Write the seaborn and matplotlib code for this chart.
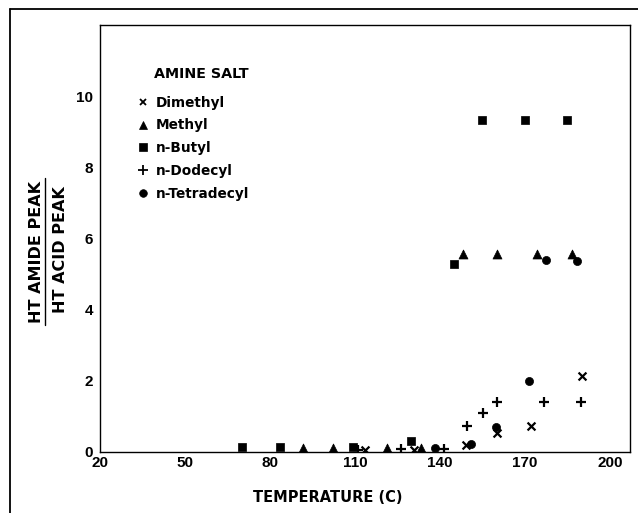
import matplotlib
matplotlib.use("Agg")
import matplotlib.pyplot as plt
import seaborn as sns
import pandas as pd
from matplotlib.lines import Line2D
from matplotlib.ticker import MultipleLocator

# ---- data ----
dimethyl_temp = [113.5, 130.8, 149.2, 160.0, 172.0, 190.0]
dimethyl_ratio = [0.06, 0.06, 0.20, 0.52, 0.72, 2.12]

methyl_temp = [91.5, 102.4, 121.2, 133.3, 148.0, 160.2, 174.4, 186.5]
methyl_ratio = [0.10, 0.10, 0.10, 0.10, 5.56, 5.56, 5.56, 5.56]

butyl_temp = [70.0, 83.5, 109.3, 129.7, 145.1, 155.0, 170.0, 185.0]
butyl_ratio = [0.12, 0.12, 0.12, 0.30, 5.28, 9.33, 9.33, 9.33]

dodecyl_temp = [111.2, 126.2, 141.4, 149.7, 155.3, 160.0, 176.8, 189.7]
dodecyl_ratio = [0.06, 0.08, 0.08, 0.73, 1.08, 1.39, 1.39, 1.39]

tetradecyl_temp = [138.2, 150.9, 159.8, 171.5, 177.4, 188.5]
tetradecyl_ratio = [0.10, 0.22, 0.69, 2.00, 5.41, 5.37]

amine_names = ["Dimethyl", "Methyl", "n-Butyl", "n-Dodecyl", "n-Tetradecyl"]
x_ticks = [20, 50, 80, 110, 140, 170, 200]
y_ticks = [0, 2, 4, 6, 8, 10]

series = {
    "Dimethyl": (dimethyl_temp, dimethyl_ratio),
    "Methyl": (methyl_temp, methyl_ratio),
    "n-Butyl": (butyl_temp, butyl_ratio),
    "n-Dodecyl": (dodecyl_temp, dodecyl_ratio),
    "n-Tetradecyl": (tetradecyl_temp, tetradecyl_ratio),
}
rows = []
for name, (ts, rs) in series.items():
    for t, r in zip(ts, rs):
        rows.append({"Temperature": t, "Ratio": r, "Amine": name})
df = pd.DataFrame(rows)

# ---- styling ----
sns.set_theme(style="white")
plt.rcParams["font.family"] = ["DejaVu Sans"]

markers = {"Dimethyl": "x", "Methyl": "^", "n-Butyl": "s",
           "n-Dodecyl": "+", "n-Tetradecyl": "o"}
sizes = {"Dimethyl": 32, "Methyl": 42, "n-Butyl": 34,
         "n-Dodecyl": 50, "n-Tetradecyl": 34}

fig = plt.figure(figsize=(6.38, 5.13), dpi=100)
ax = fig.add_axes([100 / 638, 1 - 451.7 / 513, 530 / 638, 426.7 / 513])

for name in amine_names:
    sub = df[df["Amine"] == name]
    m = markers[name]
    kw = dict(color="black", s=sizes[name], ax=ax, legend=False, marker=m)
    if m in ("x", "+"):
        kw["linewidth"] = 1.6
    else:
        kw["edgecolor"] = "black"
        kw["linewidth"] = 0.5
    sns.scatterplot(data=sub, x="Temperature", y="Ratio", **kw)

ax.set_xlim(20, 207.1)
ax.set_ylim(0, 12.02)
ax.set_xticks(x_ticks)
ax.set_yticks(y_ticks)
ax.xaxis.set_minor_locator(MultipleLocator(10))
ax.tick_params(axis="both", which="both", direction="in", length=4,
               width=1, color="black", labelsize=11, labelcolor="black",
               labelfontfamily="Liberation Sans")
ax.tick_params(axis="x", which="major", pad=3)
ax.tick_params(axis="y", which="major", pad=5)
for sp in ax.spines.values():
    sp.set_color("black")
    sp.set_linewidth(1.0)
    sp.set_visible(True)

ax.set_xlabel("TEMPERATURE (C)", fontsize=10.5, fontweight="bold",
              color="black")
ax.xaxis.set_label_coords((328 - 100) / 530, -(490 - 451.7) / 426.7)
ax.set_ylabel("")

# fraction-style y label
fig.text(36.5 / 638, 1 - 252 / 513, "HT AMIDE PEAK", rotation=90,
         ha="center", va="center", fontsize=11.5, fontweight="bold",
         color="black")
fig.text(60.5 / 638, 1 - 250 / 513, "HT ACID PEAK", rotation=90,
         ha="center", va="center", fontsize=11.5, fontweight="bold",
         color="black")
fig.add_artist(Line2D([45 / 638, 45 / 638], [1 - 178 / 513, 1 - 325 / 513],
                      transform=fig.transFigure, color="black", lw=1.0))

# legend
fig.text(154 / 638, 1 - 73.5 / 513, "AMINE SALT", ha="left", va="center",
         fontsize=10.3, fontweight="bold", color="black")
leg_ms = {"Dimethyl": 5, "Methyl": 6, "n-Butyl": 5.5,
          "n-Dodecyl": 6.5, "n-Tetradecyl": 5.5}
handles = []
for name in amine_names:
    m = markers[name]
    handles.append(Line2D([], [], linestyle="none", marker=m, color="black",
                          markersize=leg_ms[name],
                          markeredgewidth=1.3 if m in ("x", "+") else 0.5))
leg = ax.legend(handles, amine_names, loc="upper left",
                bbox_to_anchor=(136.5 / 638, 1 - 95.5 / 513),
                bbox_transform=fig.transFigure, frameon=False,
                borderpad=0, borderaxespad=0, handlelength=1.0,
                handletextpad=0.4, labelspacing=0.65,
                prop={"family": "DejaVu Sans", "weight": "bold", "size": 9.8})
for t in leg.get_texts():
    t.set_color("black")

for lab in ax.get_xticklabels() + ax.get_yticklabels():
    lab.set_fontweight("bold")

# outer frame of the scanned figure
fig.add_artist(Line2D([10 / 638, 1.0], [1 - 9 / 513, 1 - 9 / 513],
                      transform=fig.transFigure, color="black", lw=1.3))
fig.add_artist(Line2D([10 / 638, 10 / 638], [1 - 9 / 513, 0.0],
                      transform=fig.transFigure, color="black", lw=1.3))

fig.savefig("out.png", dpi=100, facecolor="white")
